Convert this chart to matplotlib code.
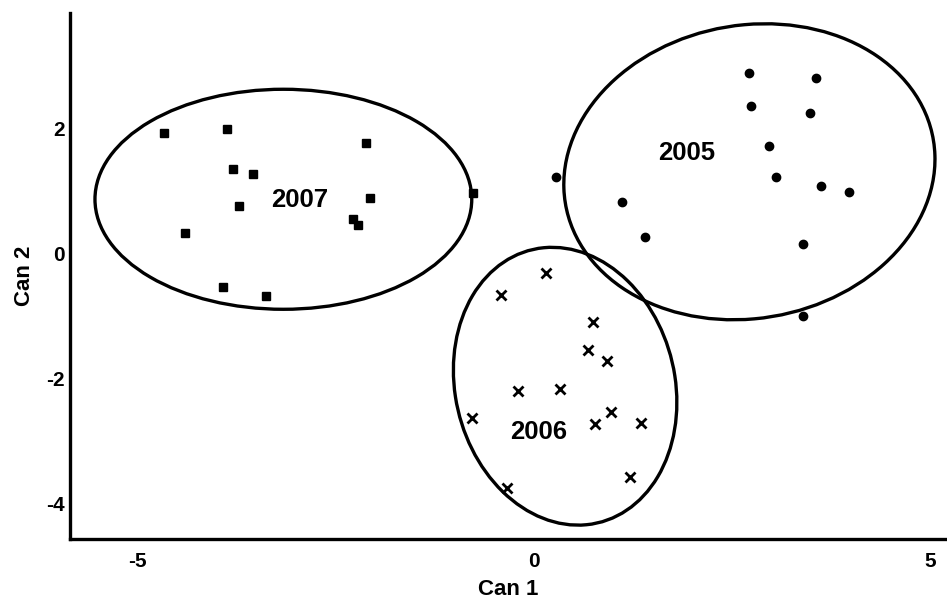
import matplotlib
matplotlib.use("Agg")
import matplotlib.pyplot as plt
from matplotlib.patches import Ellipse

plt.rcParams['font.family'] = ['Liberation Sans', 'DejaVu Sans']
plt.rcParams['font.weight'] = 'bold'
plt.rcParams['axes.unicode_minus'] = False

# canonical scores
x2005 = [2.72, 3.56, 2.74, 3.48, 2.97, 3.05, 3.62, 3.98, 0.28, 1.12, 1.41, 3.40, 3.40]
y2005 = [2.88, 2.80, 2.36, 2.24, 1.72, 1.22, 1.07, 0.97, 1.22, 0.82, 0.26, 0.14, -1.00]

x2006 = [0.15, -0.41, 0.75, 0.68, 0.93, -0.20, 0.33, -0.78, 0.97, 0.77, 1.35, 1.22, -0.34]
y2006 = [-0.32, -0.67, -1.10, -1.55, -1.72, -2.21, -2.18, -2.64, -2.54, -2.74, -2.72, -3.58, -3.76]

x2007 = [-4.66, -3.86, -2.11, -3.79, -3.54, -3.71, -2.06, -2.28, -2.22, -4.39, -3.91, -3.37, -0.76]
y2007 = [1.92, 1.98, 1.76, 1.34, 1.26, 0.76, 0.88, 0.54, 0.45, 0.32, -0.54, -0.69, 0.96]

# group ellipses: centre, full width, full height, angle (data units)
groups = ['2005', '2006', '2007']
ell_cx = [2.72, 0.397, -3.155]
ell_cy = [1.30, -2.131, 0.86]
ell_w = [4.906, 2.786, 4.75]
ell_h = [4.50, 4.464, 3.52]
ell_ang = [49, 6.9, 0]
lab_x = [1.93, 0.06, -2.95]
lab_y = [1.60, -2.86, 0.85]

fig = plt.figure(figsize=(9.47, 6.05), dpi=100)
ax = fig.add_axes([0.0739, 0.109, 0.926, 0.8695])

ax.plot(x2005, y2005, 'o', color='black', markersize=6, linestyle='none')
ax.plot(x2006, y2006, 'x', color='black', markersize=7, markeredgewidth=2, linestyle='none')
ax.plot(x2007, y2007, 's', color='black', markersize=5.5, linestyle='none')

for i in range(len(groups)):
    e = Ellipse((ell_cx[i], ell_cy[i]), ell_w[i], ell_h[i], angle=ell_ang[i],
                fill=False, edgecolor='black', linewidth=2.4)
    ax.add_patch(e)
    ax.text(lab_x[i], lab_y[i], groups[i], fontsize=18.5, fontweight='bold',
            ha='center', va='center')

ax.set_xlim(-5.845, 5.21)
ax.set_ylim(-4.576, 3.84)
ax.set_xticks([-5, 0, 5])
ax.set_yticks([-4, -2, 0, 2])
ax.tick_params(length=0, labelsize=15)
ax.tick_params(axis='x', pad=9)
ax.tick_params(axis='y', pad=4)
for lab in ax.get_xticklabels() + ax.get_yticklabels():
    lab.set_fontweight('bold')

ax.spines['top'].set_visible(False)
ax.spines['right'].set_visible(False)
ax.spines['left'].set_linewidth(2.4)
ax.spines['bottom'].set_linewidth(2.4)

ax.set_xlabel('Can 1', fontsize=16, fontweight='bold', labelpad=6)
ax.set_ylabel('Can 2', fontsize=16, fontweight='bold', labelpad=8)

fig.savefig('out.png', dpi=100)
